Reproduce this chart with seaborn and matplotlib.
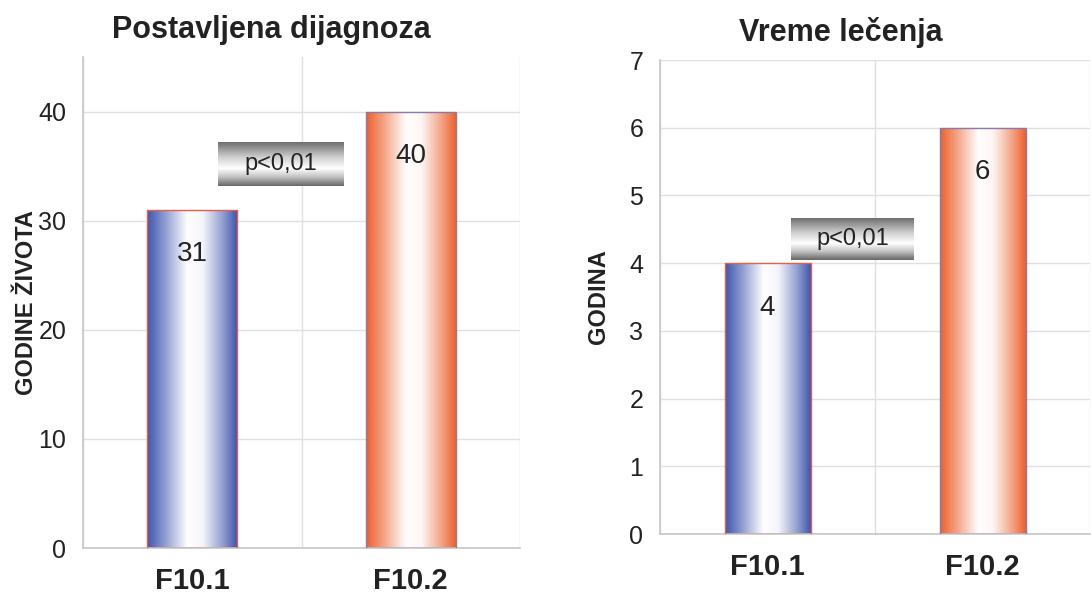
import numpy as np
import pandas as pd
import matplotlib.pyplot as plt
import seaborn as sns
from matplotlib.colors import LinearSegmentedColormap

# data
groups = ["F10.1", "F10.2"]
dijagnoza = [31, 40]
lecenje = [4, 6]
p_text = "p<0,01"

sns.set_theme(style="white")
plt.rcParams['font.family'] = ['Liberation Sans', 'DejaVu Sans']

blue_cmap = LinearSegmentedColormap.from_list(
    "b", [(0, "#3f56ad"), (0.2, "#8e9dd0"), (0.45, "#ffffff"), (0.62, "#f4f5fb"), (0.85, "#8f9ccf"), (1, "#3f56ad")])
orange_cmap = LinearSegmentedColormap.from_list(
    "o", [(0, "#ee602c"), (0.2, "#f4a488"), (0.45, "#ffffff"), (0.62, "#fdf5f2"), (0.85, "#f4a080"), (1, "#ee602c")])
gray_cmap = LinearSegmentedColormap.from_list(
    "g", [(0, "#6e6e6e"), (0.35, "#d0d0d0"), (0.6, "#ffffff"), (0.8, "#c0c0c0"), (1, "#666666")])

grad = np.linspace(0, 1, 256).reshape(1, -1)


def gradient_bars(ax, edge_colors):
    cmaps = [blue_cmap, orange_cmap]
    for i, patch in enumerate(ax.patches):
        x0, y0 = patch.get_x(), patch.get_y()
        w, h = patch.get_width(), patch.get_height()
        patch.set_facecolor("none")
        patch.set_edgecolor(edge_colors[i])
        patch.set_linewidth(1.0)
        im = ax.imshow(grad, cmap=cmaps[i], aspect="auto",
                       extent=[x0, x0 + w, y0, y0 + h], zorder=2)
        im.set_clip_path(patch)
        patch.set_zorder(3)


def p_box(ax, x0, x1, y0, y1):
    vgrad = np.linspace(0, 1, 256).reshape(-1, 1)
    ax.imshow(vgrad, cmap=gray_cmap, aspect="auto",
              extent=[x0, x1, y0, y1], zorder=4)
    ax.text((x0 + x1) / 2, (y0 + y1) / 2, p_text, ha="center", va="center",
            fontsize=17, color="#222222", zorder=5)


def style_axis(ax, ymax, yticks, ylabel, title, title_x, labelpad):
    ax.set_xlim(-0.5, 1.5)
    ax.set_ylim(0, ymax)
    ax.set_yticks(yticks)
    ax.set_xticks([-0.5, 0.5, 1.5], minor=False)
    ax.set_xticklabels([])
    ax.set_xticks([0, 1], minor=True)
    ax.set_xticklabels(groups, minor=True, fontsize=21, fontweight="bold", color="#222222")
    ax.tick_params(axis="x", which="minor", length=0, pad=14)
    ax.tick_params(axis="x", which="major", length=8, color="#aaaaaa", direction="out")
    ax.tick_params(axis="y", length=8, color="#aaaaaa", labelsize=18, labelcolor="#222222", pad=4)
    ax.grid(True, axis="both", which="major", color="#e0e0e0", linewidth=1.0)
    ax.set_axisbelow(True)
    for s in ["top", "right"]:
        ax.spines[s].set_visible(False)
    ax.spines["left"].set_color("#c8c8c8")
    ax.spines["bottom"].set_color("#c8c8c8")
    ax.set_xlabel("")
    ax.set_ylabel(ylabel, fontsize=17, fontweight="bold", color="#222222", labelpad=labelpad)
    ax.set_title(title, fontsize=22, fontweight="bold", color="#222222", pad=14, x=title_x)


fig = plt.figure(figsize=(10.91, 6.03), dpi=100)
ax1 = fig.add_axes([83 / 1091, 55 / 603, 437 / 1091, 491 / 603])
ax2 = fig.add_axes([660 / 1091, 69 / 603, 430 / 1091, 474 / 603])

df1 = pd.DataFrame({"grupa": groups, "val": dijagnoza})
df2 = pd.DataFrame({"grupa": groups, "val": lecenje})

sns.barplot(data=df1, x="grupa", y="val", ax=ax1, width=0.41, color="white")
sns.barplot(data=df2, x="grupa", y="val", ax=ax2, width=0.40, color="white")

style_axis(ax1, 45, [0, 10, 20, 30, 40], "GODINE ŽIVOTA", "Postavljena dijagnoza", 0.432, 0)
style_axis(ax2, 7, range(0, 8), "GODINA", "Vreme lečenja", 0.421, 14)

gradient_bars(ax1, ["#e0604a", "#8a7aa8"])
gradient_bars(ax2, ["#e0604a", "#8a7aa8"])

for ax, vals in [(ax1, dijagnoza), (ax2, lecenje)]:
    for i, v in enumerate(vals):
        ax.annotate(str(v), (i, v), xytext=(0, -32), textcoords="offset points",
                    ha="center", va="center", fontsize=20, color="#222222", zorder=5)

p_box(ax1, 0.118, 0.694, 33.2, 37.2)
p_box(ax2, 0.109, 0.681, 4.05, 4.67)

ax1.set_xlim(-0.5, 1.5)
ax1.set_ylim(0, 45)
ax2.set_xlim(-0.5, 1.5)
ax2.set_ylim(0, 7)

fig.savefig("out.png", dpi=100)
